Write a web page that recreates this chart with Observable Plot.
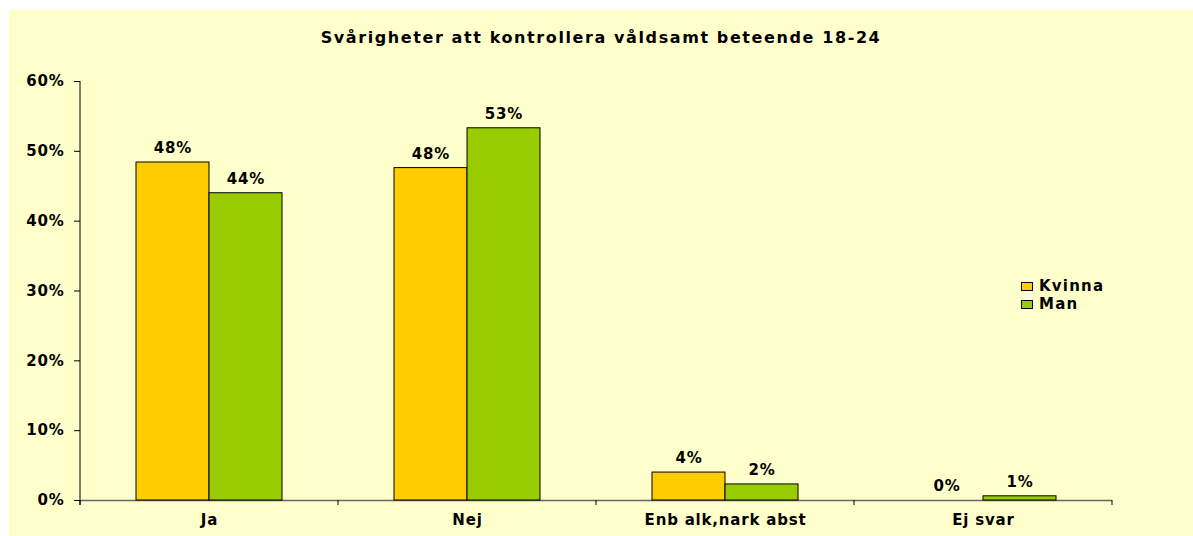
<!DOCTYPE html>
<html><head><meta charset="utf-8">
<script src="https://cdn.jsdelivr.net/npm/d3@7"></script>
<script src="https://cdn.jsdelivr.net/npm/@observablehq/plot@0.6"></script>
<style>
body{margin:0;background:#fff;}
#wrap{position:absolute;left:9px;top:10px;width:1184px;height:526px;background:#ffffcc;font-family:"DejaVu Sans",sans-serif;font-weight:bold;color:#000;}
#title{position:absolute;left:0;top:18px;width:1184px;text-align:center;font-size:16px;letter-spacing:1.6px;}
#chart{position:absolute;left:0;top:50px;}
#legend{position:absolute;left:1012px;top:267px;font-size:15px;letter-spacing:1.2px;}
.item{display:flex;align-items:center;height:18px;}
.sw{width:10px;height:7px;border:1px solid #000;margin-right:6px;}
svg text{letter-spacing:0.8px;}
</style></head>
<body>
<div id="wrap">
  <div id="title"></div>
  <div id="chart"></div>
  <div id="legend"></div>
</div>
<script>
const titleText = "Svårigheter att kontrollera våldsamt beteende 18-24";
const categories = ["Ja", "Nej", "Enb alk,nark abst", "Ej svar"];
const series = ["Kvinna", "Man"];
const kvinna = [48.4, 47.6, 4.0, 0.0];
const man = [44.0, 53.3, 2.3, 0.6];
const yTicks = [0, 10, 20, 30, 40, 50, 60];
const colors = ["#ffcc00", "#99cc00"];

document.getElementById("title").textContent = titleText;
const legend = document.getElementById("legend");
series.forEach((s, i) => {
  const it = document.createElement("div"); it.className = "item";
  const sw = document.createElement("div"); sw.className = "sw"; sw.style.background = colors[i];
  const t = document.createElement("span"); t.textContent = s;
  it.appendChild(sw); it.appendChild(t); legend.appendChild(it);
});

const data = categories.flatMap((c, i) => [
  {cat: c, series: "Kvinna", value: kvinna[i]},
  {cat: c, series: "Man", value: man[i]}
]);

const plot = Plot.plot({
  width: 1184, height: 476,
  marginLeft: 70, marginRight: 81, marginTop: 21, marginBottom: 36,
  style: {background: "transparent", fontFamily: "DejaVu Sans", fontWeight: "bold", fontSize: "15px", color: "#000"},
  fx: {domain: categories, padding: 0, label: null, axis: "bottom", tickSize: 0, tickPadding: 14},
  x: {domain: series, paddingInner: 0, paddingOuter: 0.745, axis: null},
  y: {domain: [0, 60], ticks: yTicks, tickFormat: d => d + "%", tickSize: 6, tickPadding: 10, label: null},
  color: {domain: series, range: colors},
  marks: [
    Plot.ruleY([0], {stroke: "#666", strokeWidth: 1.5}),
    Plot.barY(data, {fx: "cat", x: "series", y: "value", fill: "series", stroke: "#000", strokeWidth: 1}),
    Plot.text(data, {fx: "cat", x: "series", y: "value", text: d => Math.round(d.value) + "%", dy: -14, fontSize: 15, fontWeight: "bold", fill: "#000"})
  ]
});

// axis line and category boundary ticks from the Plot scales
const fx = plot.scale("fx"), y = plot.scale("y");
const svg = d3.select(plot);
const g = svg.append("g").attr("stroke", "#000").attr("stroke-width", 1);
const x0 = fx.apply(categories[0]);
g.append("line").attr("x1", x0).attr("x2", x0).attr("y1", y.apply(60)).attr("y2", y.apply(0) + 5);
const bounds = categories.map(c => fx.apply(c)).concat([fx.apply(categories[categories.length - 1]) + fx.bandwidth]);
bounds.forEach(b => g.append("line").attr("x1", b).attr("x2", b).attr("y1", y.apply(0)).attr("y2", y.apply(0) + 5));

document.getElementById("chart").appendChild(plot);
</script>
</body></html>
